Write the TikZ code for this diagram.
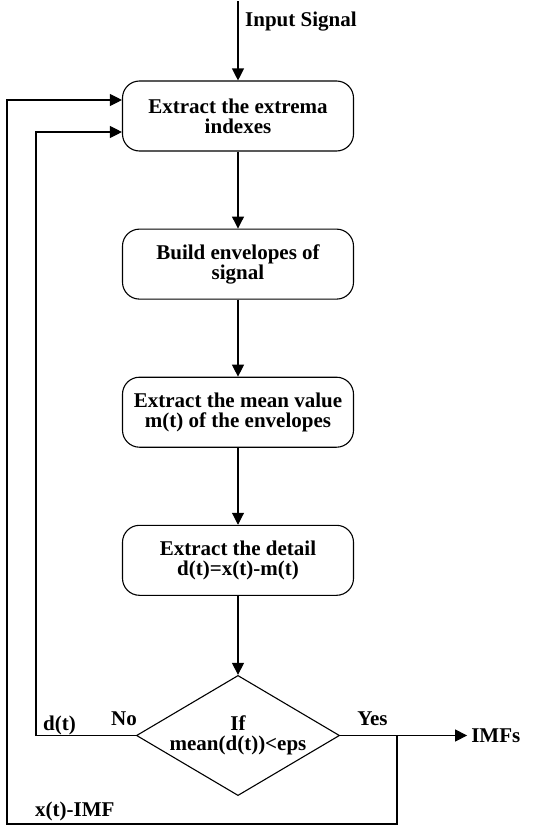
\documentclass[tikz,border=0pt]{standalone}
\usepackage{fontspec}
\setmainfont{Liberation Serif}
\usetikzlibrary{shapes.geometric, arrows.meta, positioning, calc}
\tikzset{
    box/.style={rectangle, rounded corners=17pt, draw=black, line width=1.1pt, minimum width=231pt, minimum height=70pt, align=center, inner sep=2pt},
    decision/.style={diamond, draw=black, line width=1.1pt, minimum width=201pt, minimum height=119pt, aspect=1.69, align=center, inner sep=0pt},
    lbl/.style={inner sep=0pt, anchor=base west},
    arrow/.style={-{Triangle[length=12pt, width=12pt]}, line width=1.1pt}
}
\begin{document}
\begin{tikzpicture}[x=1pt, y=-1pt, node distance=77pt, font={\fontsize{21}{20}\selectfont\bfseries}]
    \useasboundingbox (0,0) rectangle (558,827);

    % --- Input ---
    \coordinate (in) at (238,1);
    \node (inlbl) [lbl] at (245,26) {Input Signal};

    % --- Sifting steps ---
    \node (extrema) [box] at (238,116) {Extract the extrema\\indexes};
    \node (env) [box, below=of extrema] {Build envelopes of\\signal};
    \node (mean) [box, below=of env] {Extract the mean value\\m(t) of the envelopes};
    \node (detail) [box, below=of mean] {Extract the detail\\d(t)=x(t)-m(t)};
    \node (cond) [decision, below=79pt of detail] {If\\mean(d(t))<eps};
    \node (imfs) [right=127pt of cond.east, anchor=west, inner sep=4pt] {IMFs};

    \draw [arrow] (in) -- (extrema);
    \draw [arrow] (extrema) -- (env);
    \draw [arrow] (env) -- (mean);
    \draw [arrow] (mean) -- (detail);
    \draw [arrow] (detail) -- (cond);
    \draw [arrow] (cond) -- (imfs);

    % --- Feedback loops ---
    \coordinate (noL) at (cond.west -| 36,0);
    \coordinate (yesT) at (cond.east -| 397,0);
    \coordinate (loopBR) at (397,824);
    \coordinate (loopBL) at (7,824);
    \draw [arrow] (cond.west) -- (noL) |- ($(extrema.west)+(0,16)$);
    \draw [arrow] (yesT) -- (loopBR) -- (loopBL) |- ($(extrema.west)+(0,-16)$);

    % --- Labels ---
    \node (dlbl) [lbl] at ($(noL)+(7,-5)$) {d(t)};
    \node (nolbl) [lbl] at ($(cond.west)+(-25,-10)$) {No};
    \node (yeslbl) [lbl] at ($(cond.east)+(17,-10)$) {Yes};
    \node (xlbl) [lbl] at (35,816) {x(t)-IMF};
\end{tikzpicture}
\end{document}
